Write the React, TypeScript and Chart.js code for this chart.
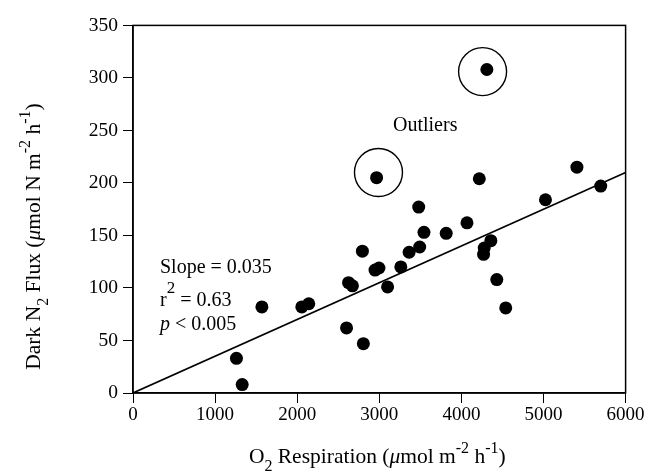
import React, { useEffect, useRef } from "react";
import { Chart, registerables } from "chart.js";

Chart.register(...registerables);

// Measurements: O2 respiration (x) vs dark N2 flux (y)
const respiration = [
  1260, 1330, 1570, 2056, 2141, 2601, 2806, 2625, 2673, 2794, 2948, 2996, 3101, 3262, 3363,
  3492, 3544, 3480, 3815, 4068, 4218, 4359, 4278, 4270, 4431, 4540, 5024, 5407, 5697,
];
const n2Flux = [
  33, 8, 82, 82, 85, 62, 47, 105, 102, 135, 117, 119, 101, 120, 134,
  139, 153, 177, 152, 162, 204, 145, 138, 132, 108, 81, 184, 215, 197,
];

// The two outlying samples and the rings marking them
const outlierRespiration = [4310, 2967];
const outlierFlux = [308, 205];
const ringRespiration = [4258, 2990];
const ringFlux = [306, 210];

// Regression through the origin
const slope = 0.035;
const fitRange = [0, 6000];

const xTicks = [0, 1000, 2000, 3000, 4000, 5000, 6000];
const yTicks = [0, 50, 100, 150, 200, 250, 300, 350];

const FONT = "'Liberation Serif', 'Times New Roman', serif";

type Seg = { t: string; k?: "sub" | "sup"; i?: boolean };
type Style = { size: number; scriptSize: number; supRaise: number; subDrop: number };

const titleStyle: Style = { size: 21.5, scriptSize: 16, supRaise: 10, subDrop: 8 };
const noteStyle: Style = { size: 20, scriptSize: 17, supRaise: 13, subDrop: 7 };

const xTitle: Seg[] = [
  { t: "O" },
  { t: "2", k: "sub" },
  { t: " Respiration (" },
  { t: "\u03bc", i: true },
  { t: "mol m" },
  { t: "-2", k: "sup" },
  { t: " h" },
  { t: "-1", k: "sup" },
  { t: ")" },
];

const yTitle: Seg[] = [
  { t: "Dark N" },
  { t: "2", k: "sub" },
  { t: " Flux (" },
  { t: "\u03bc", i: true },
  { t: "mol N m" },
  { t: "-2", k: "sup" },
  { t: " h" },
  { t: "-1", k: "sup" },
  { t: ")" },
];

const statLines: { segs: Seg[]; baseline: number }[] = [
  { segs: [{ t: "Slope = " + slope.toFixed(3) }], baseline: 272.5 },
  { segs: [{ t: "r" }, { t: "2", k: "sup" }, { t: " = 0.63" }], baseline: 306 },
  { segs: [{ t: "p", i: true }, { t: " < 0.005" }], baseline: 330 },
];

function segFont(s: Seg, st: Style) {
  const size = s.k ? st.scriptSize : st.size;
  return `${s.i ? "italic " : ""}${size}px ${FONT}`;
}

function richWidth(ctx: CanvasRenderingContext2D, segs: Seg[], st: Style) {
  let w = 0;
  for (const s of segs) {
    ctx.font = segFont(s, st);
    w += ctx.measureText(s.t).width;
  }
  return w;
}

function drawRich(
  ctx: CanvasRenderingContext2D,
  segs: Seg[],
  x: number,
  y: number,
  center: boolean,
  st: Style
) {
  let cx = center ? x - richWidth(ctx, segs, st) / 2 : x;
  ctx.textAlign = "left";
  ctx.textBaseline = "alphabetic";
  ctx.fillStyle = "#000";
  for (const s of segs) {
    ctx.font = segFont(s, st);
    const dy = s.k === "sup" ? -st.supRaise : s.k === "sub" ? st.subDrop : 0;
    ctx.fillText(s.t, cx, y + dy);
    cx += ctx.measureText(s.t).width;
  }
}

const decorations = {
  id: "decorations",
  afterDraw(chart: Chart) {
    const { ctx, chartArea } = chart;
    ctx.save();
    // frame
    ctx.strokeStyle = "#000";
    ctx.lineWidth = 1.5;
    ctx.strokeRect(chartArea.left, chartArea.top, chartArea.right - chartArea.left, chartArea.bottom - chartArea.top);

    // axis titles
    const midX = (chartArea.left + chartArea.right) / 2;
    drawRich(ctx, xTitle, midX - 2, 463, true, titleStyle);
    ctx.save();
    ctx.translate(40, 236.5);
    ctx.rotate(-Math.PI / 2);
    drawRich(ctx, yTitle, 0, 0, true, titleStyle);
    ctx.restore();

    // annotations
    drawRich(ctx, [{ t: "Outliers" }], 393, 130.5, false, noteStyle);
    for (const line of statLines) {
      drawRich(ctx, line.segs, 160, line.baseline, false, noteStyle);
    }
    ctx.restore();
  },
};

export default function App() {
  const ref = useRef<HTMLCanvasElement | null>(null);

  useEffect(() => {
    document.body.style.margin = "0";
    const canvas = ref.current;
    if (!canvas) return;

    const points = respiration.map((x, i) => ({ x, y: n2Flux[i] }));
    const outliers = outlierRespiration.map((x, i) => ({ x, y: outlierFlux[i] }));
    const rings = ringRespiration.map((x, i) => ({ x, y: ringFlux[i] }));
    const fit = fitRange.map((x) => ({ x, y: slope * x }));

    const chart = new Chart(canvas, {
      type: "scatter",
      data: {
        datasets: [
          {
            data: fit,
            showLine: true,
            borderColor: "#000",
            borderWidth: 1.6,
            pointRadius: 0,
            fill: false,
            order: 3,
          },
          {
            data: points,
            backgroundColor: "#000",
            borderColor: "#000",
            pointRadius: 6.5,
            borderWidth: 0,
            order: 1,
          },
          {
            data: outliers,
            backgroundColor: "#000",
            borderColor: "#000",
            pointRadius: 6.5,
            borderWidth: 0,
            order: 1,
          },
          {
            data: rings,
            backgroundColor: "rgba(0,0,0,0)",
            borderColor: "#000",
            pointRadius: 24,
            borderWidth: 1.4,
            order: 2,
          },
        ],
      },
      options: {
        responsive: false,
        animation: false,
        events: [],
        layout: { padding: { left: 0, top: 22, right: 22, bottom: 0 } },
        plugins: {
          legend: { display: false },
          tooltip: { enabled: false },
        },
        scales: {
          x: {
            type: "linear",
            min: 0,
            max: 6000,
            afterBuildTicks: (scale: any) => {
              scale.ticks = xTicks.map((v) => ({ value: v }));
            },
            afterFit: (scale: any) => {
              scale.height = 80;
            },
            grid: {
              display: true,
              drawOnChartArea: false,
              tickLength: 10,
              color: "#000",
              lineWidth: 1,
            },
            border: { display: true, color: "#000", width: 1.5 },
            ticks: {
              color: "#000",
              font: { family: FONT, size: 19 },
              padding: 1,
              maxRotation: 0,
              autoSkip: false,
              callback: (v: any) => String(v),
            },
          },
          y: {
            type: "linear",
            min: 0,
            max: 350,
            afterBuildTicks: (scale: any) => {
              scale.ticks = yTicks.map((v) => ({ value: v }));
            },
            afterFit: (scale: any) => {
              scale.width = 133;
            },
            grid: {
              display: true,
              drawOnChartArea: false,
              tickLength: 10,
              color: "#000",
              lineWidth: 1,
            },
            border: { display: true, color: "#000", width: 1.5 },
            ticks: {
              color: "#000",
              font: { family: FONT, size: 19.5 },
              padding: 5,
              autoSkip: false,
              callback: (v: any) => String(v),
            },
          },
        },
      },
      plugins: [decorations],
    });

    return () => chart.destroy();
  }, []);

  return <canvas ref={ref} width={651} height={473} style={{ display: "block", width: 651, height: 473 }} />;
}
